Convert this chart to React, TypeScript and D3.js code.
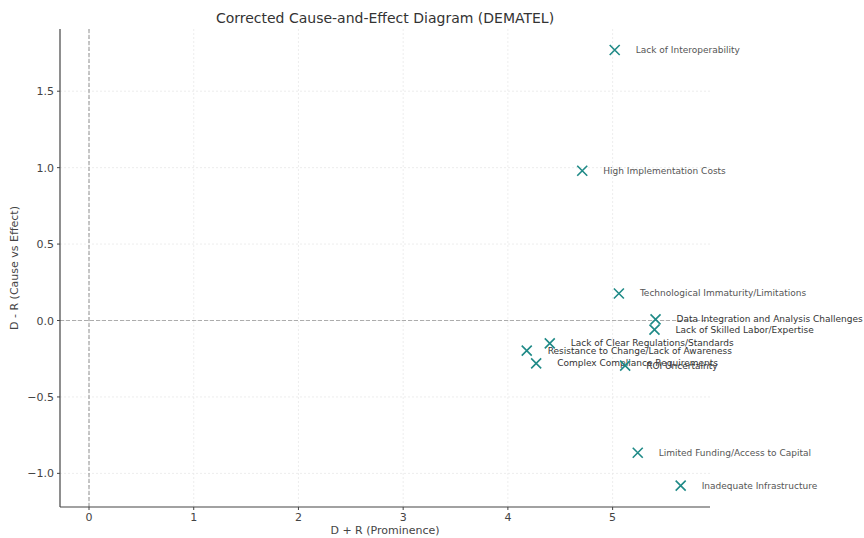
import React from "react";
import * as d3 from "d3";

// DEMATEL factors: prominence (D + R) and relation (D - R)
const factors = [
  "Lack of Interoperability",
  "High Implementation Costs",
  "Technological Immaturity/Limitations",
  "Data Integration and Analysis Challenges",
  "Lack of Skilled Labor/Expertise",
  "Lack of Clear Regulations/Standards",
  "Resistance to Change/Lack of Awareness",
  "Complex Compliance Requirements",
  "ROI Uncertainty",
  "Limited Funding/Access to Capital",
  "Inadequate Infrastructure",
];
const prominence = [5.02, 4.71, 5.06, 5.41, 5.4, 4.4, 4.18, 4.27, 5.12, 5.24, 5.65];
const relation = [1.77, 0.98, 0.177, 0.007, -0.06, -0.15, -0.197, -0.28, -0.295, -0.865, -1.08];
// label style: "a" = small light annotation, "b" = darker overlaid label
const labelStyle = ["a", "a", "a", "b", "b", "b", "b", "b", "b", "a", "a"];

const xTicks = [0, 1, 2, 3, 4, 5];
const yTicks = [-1.0, -0.5, 0.0, 0.5, 1.0, 1.5];

const W = 864;
const H = 538;
const margin = { top: 29, right: 154, bottom: 31, left: 60 };

export default function App() {
  const x = d3.scaleLinear().domain([-0.277, 5.93]).range([margin.left, W - margin.right]);
  const y = d3.scaleLinear().domain([-1.22, 1.907]).range([H - margin.bottom, margin.top]);
  const font = "DejaVu Sans, sans-serif";
  const left = margin.left;
  const right = W - margin.right;
  const top = margin.top;
  const bottom = H - margin.bottom;
  const ms = 5;

  return (
    <div style={{ position: "fixed", left: 0, top: 0 }}>
      <svg width={W} height={H} style={{ display: "block", background: "#fff" }} fontFamily={font}>
        <text x={385} y={23} textAnchor="middle" fontSize={14} fill="#333">
          Corrected Cause-and-Effect Diagram (DEMATEL)
        </text>

        {/* grid */}
        {xTicks.map(t => (
          <line key={"gx" + t} x1={x(t)} x2={x(t)} y1={top} y2={bottom} stroke="#e8e8e8" strokeWidth={0.8} strokeDasharray="2,2" />
        ))}
        {yTicks.map(t => (
          <line key={"gy" + t} x1={left} x2={right} y1={y(t)} y2={y(t)} stroke="#e8e8e8" strokeWidth={0.8} strokeDasharray="2,2" />
        ))}

        {/* reference lines */}
        <line x1={x(0)} x2={x(0)} y1={top} y2={bottom} stroke="#777" strokeWidth={0.8} strokeDasharray="4,2" />
        <line x1={left} x2={right} y1={y(0)} y2={y(0)} stroke="#999" strokeWidth={0.8} strokeDasharray="4,2" />

        {/* spines */}
        <line x1={left} x2={left} y1={top} y2={bottom} stroke="#444" strokeWidth={1.2} />
        <line x1={left} x2={right} y1={bottom} y2={bottom} stroke="#444" strokeWidth={1.2} />

        {/* ticks */}
        {xTicks.map(t => (
          <g key={"tx" + t}>
            <line x1={x(t)} x2={x(t)} y1={bottom} y2={bottom + 3} stroke="#444" />
            <text x={x(t)} y={bottom + 14} textAnchor="middle" fontSize={11} fill="#444">{t}</text>
          </g>
        ))}
        {yTicks.map(t => (
          <g key={"ty" + t}>
            <line x1={left - 3} x2={left} y1={y(t)} y2={y(t)} stroke="#444" />
            <text x={left - 6} y={y(t) + 4} textAnchor="end" fontSize={11} fill="#444">
              {d3.format(".1f")(t).replace("-", "\u2212")}
            </text>
          </g>
        ))}

        <text x={385} y={534} textAnchor="middle" fontSize={11} fill="#444">D + R (Prominence)</text>
        <text transform={`translate(18, ${(top + bottom) / 2}) rotate(-90)`} textAnchor="middle" fontSize={11} fill="#444">
          D - R (Cause vs Effect)
        </text>

        {/* points */}
        {factors.map((f, i) => {
          const cx = x(prominence[i]);
          const cy = y(relation[i]);
          const big = labelStyle[i] === "b";
          return (
            <g key={f}>
              <path d={`M${cx - ms},${cy - ms}L${cx + ms},${cy + ms}M${cx - ms},${cy + ms}L${cx + ms},${cy - ms}`} stroke="#1f8a87" strokeWidth={1.6} />
              <text x={cx + 21} y={cy + 3} fontSize={9} fill={big ? "#333" : "#555"}>{f}</text>
            </g>
          );
        })}
      </svg>
    </div>
  );
}
